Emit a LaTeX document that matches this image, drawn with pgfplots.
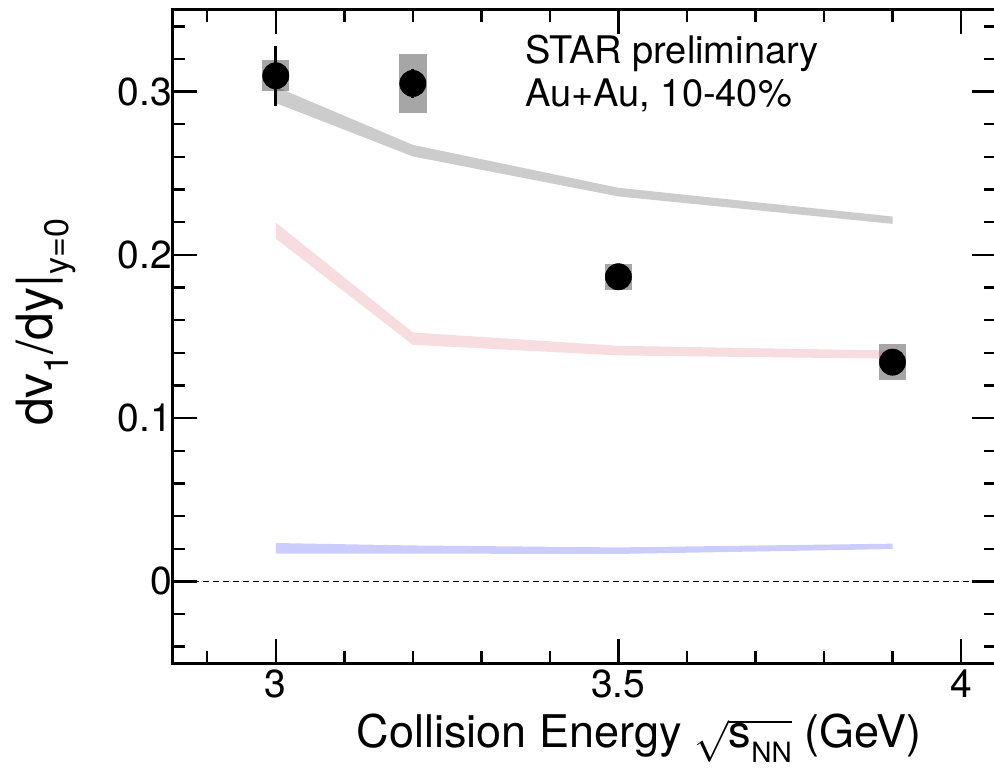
\documentclass[border=0pt]{standalone}
\usepackage{pgfplots}
\pgfplotsset{compat=1.18}
\usepackage{fontspec}
\setmainfont{TeX Gyre Heros}
\definecolor{pinkband}{RGB}{200,30,40}
\definecolor{systgray}{RGB}{166,166,166}
\newcommand\lsub[2]{\raisebox{-0.32em}{\fontsize{#1}{#1}\selectfont #2}}
\begin{document}
\begin{tikzpicture}
\useasboundingbox (-86.5pt,-53.5pt) rectangle (410.5pt,331.5pt);
\begin{axis}[
  at={(0pt,0pt)}, anchor=south west,
  scale only axis, width=411.25pt, height=326.5pt,
  xmin=2.85, xmax=4.0503, ymin=-0.05, ymax=0.35,
  xtick={3,3.5,4},
  minor xtick={2.9,3.1,3.2,3.3,3.4,3.6,3.7,3.8,3.9},
  ytick={0,0.1,0.2,0.3},
  minor ytick={-0.04,-0.02,0.02,0.04,0.06,0.08,0.12,0.14,0.16,0.18,0.22,0.24,0.26,0.28,0.32,0.34},
  tick align=inside,
  major tick length=12pt, minor tick length=6pt,
  every tick/.style={line width=1.2pt, black},
  axis line style={line width=1.5pt},
  /pgf/number format/assume math mode=true,
  tick label style={font=\fontsize{19.5}{20}\selectfont},
  yticklabel style={xshift=3pt},
  xlabel={Collision Energy $\sqrt{\hbox{s\lsub{14}{NN}}}$ (GeV)},
  xlabel style={at={(axis description cs:0.911,-0.130)}, anchor=base east, inner sep=0pt, font=\fontsize{22.5}{23}\selectfont},
  ylabel={dv\lsub{17}{1}/dy|\lsub{17}{y=0}},
  ylabel style={at={(axis description cs:-0.1459,0.681)}, anchor=base east, inner sep=0pt, font=\fontsize{25}{26}\selectfont},
  clip=true,
]
% zero line
\addplot[black, line width=0.75pt, dash pattern=on 3pt off 2pt] coordinates {(2.85,0) (4.0503,0)};
% systematic boxes
\addplot[draw=none, fill=systgray] coordinates {(2.98,0.3003) (3.02,0.3003) (3.02,0.3191) (2.98,0.3191)} -- cycle;
\addplot[draw=none, fill=systgray] coordinates {(3.18,0.2870) (3.22,0.2870) (3.22,0.3231) (3.18,0.3231)} -- cycle;
\addplot[draw=none, fill=systgray] coordinates {(3.48,0.1786) (3.52,0.1786) (3.52,0.1945) (3.48,0.1945)} -- cycle;
\addplot[draw=none, fill=systgray] coordinates {(3.88,0.1231) (3.92,0.1231) (3.92,0.1456) (3.88,0.1456)} -- cycle;
% data points
\addplot[only marks, mark=*, mark size=6.6pt, mark options={fill=black, draw=black, line width=0.2pt},
  error bars/.cd, y dir=both, y explicit,
  error bar style={line width=1.5pt, black},
  error mark options={black, mark size=2.2pt, line width=1.5pt}]
  coordinates {
  (3.0,0.3097) +- (0,0.0158)
  (3.2,0.3050) +- (0,0.006)
  (3.5,0.1866) +- (0,0.005)
  (3.9,0.1343) +- (0,0.005)
  };
% model bands
\addplot[draw=none, fill=black, fill opacity=0.2] coordinates {
  (3.0,0.3030) (3.2,0.2674) (3.5,0.2411) (3.9,0.2235)
  (3.9,0.2190) (3.5,0.2358) (3.2,0.2603) (3.0,0.2930)} -- cycle;
\addplot[draw=none, fill=pinkband, fill opacity=0.15] coordinates {
  (3.0,0.2198) (3.2,0.1525) (3.5,0.1443) (3.9,0.1414)
  (3.9,0.1364) (3.5,0.1384) (3.2,0.1449) (3.0,0.2099)} -- cycle;
\addplot[draw=none, fill=blue, fill opacity=0.2] coordinates {
  (3.0,0.0235) (3.2,0.0220) (3.5,0.0208) (3.9,0.0231)
  (3.9,0.0198) (3.5,0.0168) (3.2,0.0170) (3.0,0.0170)} -- cycle;
% text
\node[anchor=base west, inner sep=0pt, font=\fontsize{19}{19}\selectfont] at (axis cs:3.3637,0.317) {STAR preliminary};
\node[anchor=base west, inner sep=0pt, font=\fontsize{19}{19}\selectfont] at (axis cs:3.3637,0.2907) {Au+Au, 10-40\%};
\end{axis}
\end{tikzpicture}
\end{document}
